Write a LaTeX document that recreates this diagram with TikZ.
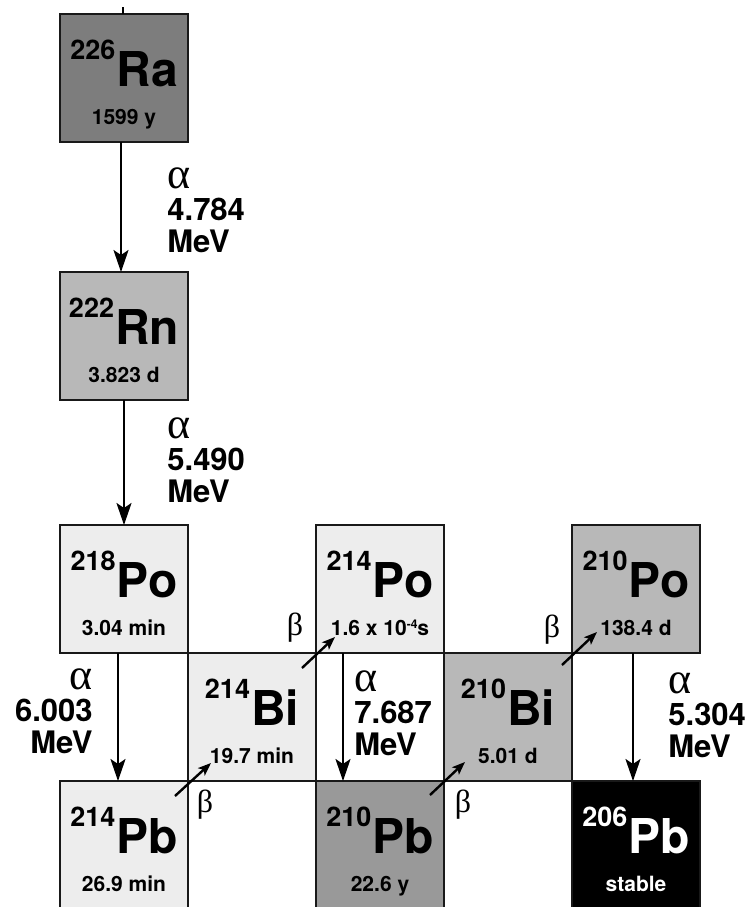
\documentclass[tikz,border=0pt]{standalone}
\usepackage{fontspec}
\setmainfont{TeX Gyre Heros}
\newfontfamily\greekfont{Liberation Serif}
\usetikzlibrary{arrows.meta,calc}
\definecolor{darkFill}{gray}{0.49}
\definecolor{leadFill}{gray}{0.60}
\definecolor{midFill}{gray}{0.72}
\definecolor{lightFill}{gray}{0.93}
\newcommand{\nuc}[2]{\raisebox{13.5pt}{\fontsize{13.5}{13}\selectfont #1}\kern0.5pt{\fontsize{24}{24}\selectfont #2}}
\newcommand{\negfour}{\raisebox{3.5pt}{\fontsize{6}{6}\selectfont -4}}
\tikzset{
  nucbox/.style={draw=black!90, line width=1.4pt, minimum size=64pt, inner sep=0pt, outer sep=0pt},
  isotope/.style={anchor=base, inner sep=0pt, font=\bfseries},
  halflife/.style={anchor=base, inner sep=0pt, font=\bfseries\fontsize{10.5}{11}\selectfont},
  alphaArrow/.style={line width=1.2pt, -{Stealth[length=11pt,width=7.5pt,inset=2.5pt]}},
  betaArrow/.style={line width=1.2pt, -{Stealth[length=6.5pt,width=5pt,inset=1.5pt]}},
  alphaLbl/.style={inner sep=0pt, font=\bfseries\fontsize{15.5}{16}\selectfont},
  betaLbl/.style={inner sep=0pt, font=\greekfont\fontsize{16}{16}\selectfont}
}
\newcommand{\alphasym}{{\greekfont\mdseries\fontsize{22}{16}\selectfont α}}

\begin{document}
\begin{tikzpicture}[x=0.5pt, y=-0.5pt]
    \useasboundingbox (0,0) rectangle (748,907);
    % --- nuclide boxes ---
    \foreach \id/\cx/\cy/\shade/\ink/\mass/\el/\hl in {
        ra/124/78/darkFill/black/226/Ra/1599 y,
        rn/124/336/midFill/black/222/Rn/3.823 d,
        poA/124/589/lightFill/black/218/Po/3.04 min,
        pbA/124/845/lightFill/black/214/Pb/26.9 min,
        biA/252/717/lightFill/black/214/Bi/19.7 min,
        poB/380/589/lightFill/black/214/Po/{1.6 x 10\negfour s},
        pbB/380/845/leadFill/black/210/Pb/22.6 y,
        biB/508/717/midFill/black/210/Bi/5.01 d,
        poC/636/589/midFill/black/210/Po/138.4 d,
        pbC/636/845/black/white/206/Pb/stable} {
      \node[nucbox, fill=\shade] (\id) at (\cx,\cy) {};
      \node[isotope, text=\ink] (\id Iso) at ($(\id.north)+(0,72)$) {\nuc{\mass}{\el}};
      \node[halflife, text=\ink] (\id Hl) at ($(\id.north)+(0,110)$) {\hl};
    }
    % --- incoming stub above Ra ---
    \coordinate (feed) at ($(ra.north)+(-1,-7)$);
    \draw[line width=1.2pt] (feed) -- ([xshift=-0.5pt]ra.north);
    % --- alpha decays ---
    \draw[alphaArrow] ([xshift=-1.5pt]ra.south) -- ([xshift=-1.5pt]rn.north);
    \draw[alphaArrow] (rn.south) -- (poA.north);
    \draw[alphaArrow] ([xshift=-3pt]poA.south) -- ([xshift=-3pt]pbA.north);
    \draw[alphaArrow] ([xshift=13.5pt]poB.south west) -- ([xshift=13.5pt]pbB.north west);
    \draw[alphaArrow] ([xshift=-1.5pt]poC.south) -- ([xshift=-1.5pt]pbC.north);
    % --- alpha labels ---
    \node[alphaLbl, anchor=west, align=left] (raRnLbl) at ($(ra.south)!0.5!(rn.north)+(43,3)$) {\alphasym\\4.784\\MeV};
    \node[alphaLbl, anchor=west, align=left] (rnPoLbl) at ($(rn.south)!0.5!(poA.north)+(43,-2)$) {\alphasym\\5.490\\MeV};
    \node[alphaLbl, anchor=east, align=right] (poPbLbl) at ($(poA.south)!0.5!(pbA.north)+(-31,-6)$) {\alphasym\\6.003\\MeV};
    \node[alphaLbl, anchor=west, align=left] (poPbBLbl) at ($(poB.south)!0.5!(pbB.north)+(-26,-4)$) {\alphasym\\7.687\\MeV};
    \node[alphaLbl, anchor=west, align=left] (poPbCLbl) at ($(poC.south)!0.5!(pbC.north)+(32,-2)$) {\alphasym\\5.304\\MeV};
    % --- beta decays across the corners ---
    \draw[betaArrow] ([shift={(-13,15)}]pbA.north east) -- ([shift={(23,-18)}]biA.south west);
    \draw[betaArrow] ([shift={(-14,15)}]biA.north east) -- ([shift={(19,-16)}]poB.south west);
    \draw[betaArrow] ([shift={(-14,14)}]pbB.north east) -- ([shift={(21,-19)}]biB.south west);
    \draw[betaArrow] ([shift={(-10,12)}]biB.north east) -- ([shift={(25,-21)}]poC.south west);
    % --- beta labels ---
    \node[betaLbl] (bPbBi) at ([shift={(17,24)}]pbA.north east) {β};
    \node[betaLbl] (bBiPo) at ([shift={(-21,-25)}]biA.north east) {β};
    \node[betaLbl] (bPbBiB) at ([shift={(19,24)}]pbB.north east) {β};
    \node[betaLbl] (bBiPoB) at ([shift={(-20,-23)}]biB.north east) {β};
  \end{tikzpicture}
\end{document}
